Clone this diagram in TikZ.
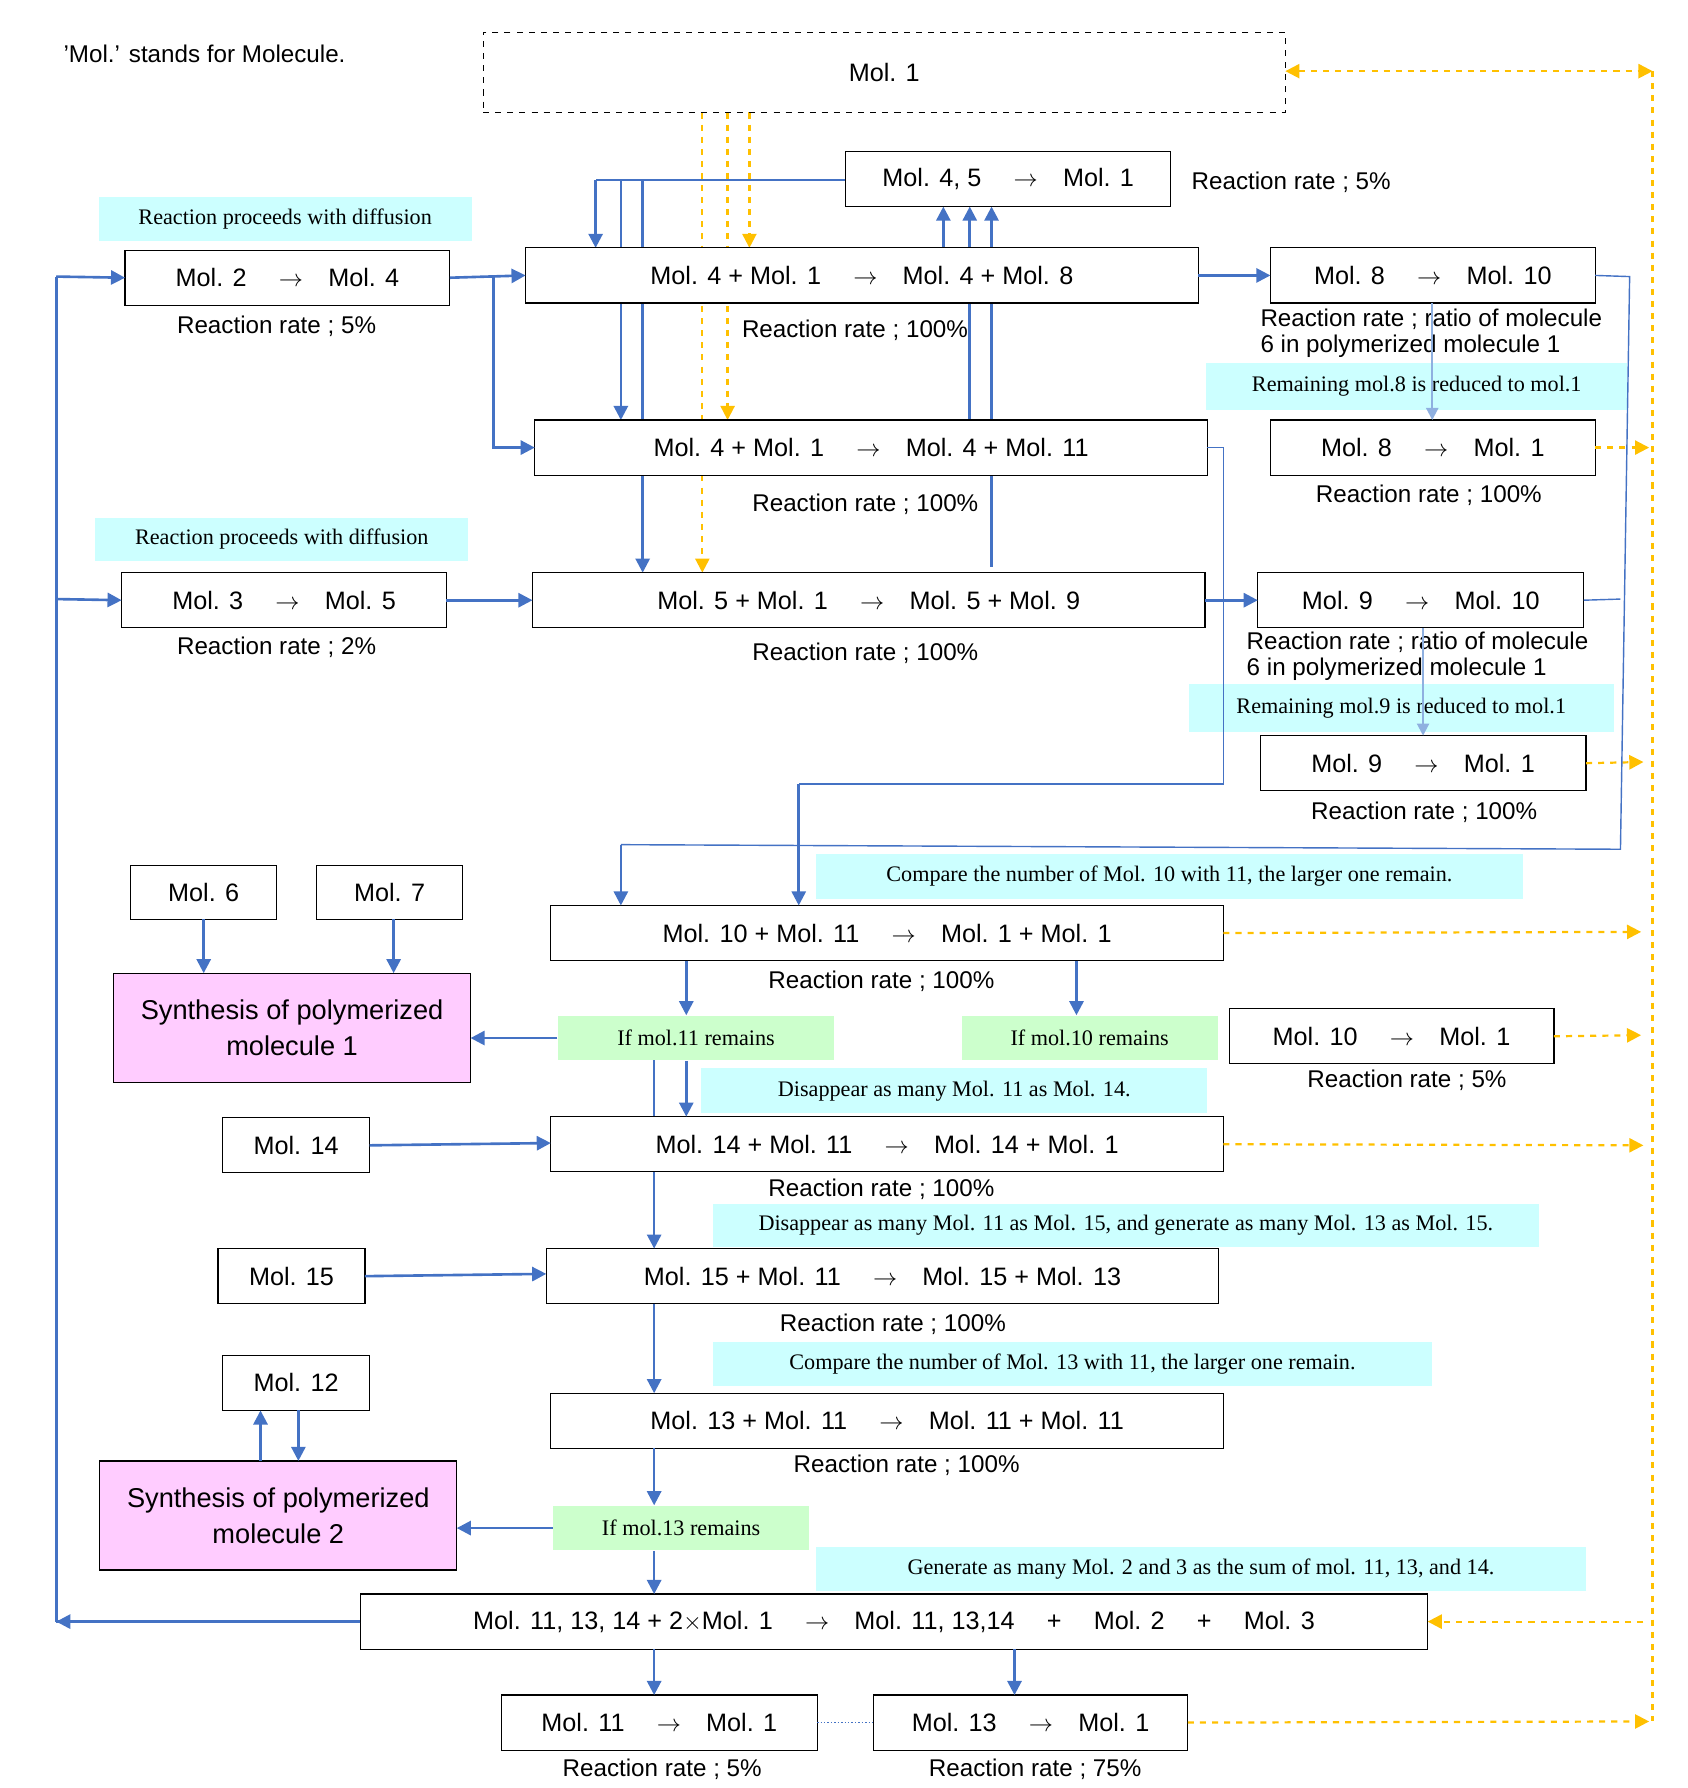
\documentclass[tikz,border=0pt]{standalone}
\usepackage{fontspec}
\setmainfont{Liberation Sans}
\newfontfamily\lserif{Liberation Serif}
\usetikzlibrary{arrows.meta}
\definecolor{bl}{HTML}{4472C4}
\definecolor{lb}{HTML}{8FB0E0}
\definecolor{og}{HTML}{FFC000}
\definecolor{cy}{HTML}{CCFFFF}
\definecolor{gr}{HTML}{CCFFCC}
\definecolor{pk}{HTML}{FFCCFF}
\newcommand\bx[7]{\pgfmathsetmacro\cx{(#2+#4)/2}\pgfmathsetmacro\cy{(#3+#5)/2}\pgfmathsetmacro\ww{(#4-#2)*0.02}\pgfmathsetmacro\hh{(#5-#3)*0.02}\node[#6,minimum width=\ww cm,minimum height=\hh cm] (#1) at (\cx,\cy) {#7};}
\newcommand\ar{$\rightarrow$}
\begin{document}
\begin{tikzpicture}[x=0.02cm,y=-0.02cm,
  box/.style={draw,fill=white,inner sep=0pt,outer sep=0pt,font=\fontsize{12.5}{15}\selectfont,line width=0.6pt},
  dbox/.style={box,dashed},
  pbox/.style={box,fill=pk,align=center,font=\fontsize{13.5}{18}\selectfont},
  cl/.style={fill=cy,inner sep=0pt,font=\lserif\fontsize{11}{12}\selectfont},
  gl/.style={fill=gr,inner sep=0pt,font=\lserif\fontsize{11}{12}\selectfont},
  tx/.style={inner sep=0pt,font=\fontsize{12}{13}\selectfont},
  ba/.style={draw=bl,line width=1.3pt,-{Triangle[length=7pt,width=7pt]}},
  bline/.style={draw=bl,line width=1.3pt},
  thin/.style={draw=bl,line width=0.7pt},
  oa/.style={draw=og,line width=1.1pt,dashed,-{Triangle[length=7pt,width=7pt]}},
  oline/.style={draw=og,line width=1.1pt,dashed}]
\useasboundingbox (0,0) rectangle (1470,1558);
% lines drawn behind boxes
\draw[bline] (737,157) -- (519,157);
\draw[ba] (519,157) -- (519,216);
\draw[ba] (541,157) -- (541,366);
\draw[ba] (560,157) -- (560,499);
\draw[ba] (822,216) -- (822,180);
\draw[ba] (845,366) -- (845,180);
\draw[ba] (864,494) -- (864,180);
\draw[bline] (570,924) -- (570,973);
\draw[oa] (612,98) -- (612,499);
\draw[oa] (634,98) -- (634,366);
\draw[oa] (653,98) -- (653,216);

\bx{M1}{421}{28}{1120}{98}{dbox}{Mol. 1}
\bx{M45}{737}{132}{1020}{180}{box}{Mol. 4, 5 \quad\ar\quad Mol. 1}
\bx{R1}{458}{216}{1044}{264}{box}{Mol. 4 + Mol. 1 \quad\ar\quad Mol. 4 + Mol. 8}
\bx{M24}{109}{218}{392}{266}{box}{Mol. 2 \quad\ar\quad Mol. 4}
\bx{M810}{1107}{216}{1390}{264}{box}{Mol. 8 \quad\ar\quad Mol. 10}
\bx{R2}{466}{366}{1052}{414}{box}{Mol. 4 + Mol. 1 \quad\ar\quad Mol. 4 + Mol. 11}
\bx{M81}{1107}{366}{1390}{414}{box}{Mol. 8 \quad\ar\quad Mol. 1}
\bx{M35}{106}{499}{389}{547}{box}{Mol. 3 \quad\ar\quad Mol. 5}
\bx{R3}{464}{499}{1050}{547}{box}{Mol. 5 + Mol. 1 \quad\ar\quad Mol. 5 + Mol. 9}
\bx{M910}{1096}{499}{1380}{547}{box}{Mol. 9 \quad\ar\quad Mol. 10}
\bx{M91}{1098}{641}{1382}{689}{box}{Mol. 9 \quad\ar\quad Mol. 1}
\bx{M6}{114}{754}{241}{801}{box}{Mol. 6}
\bx{M7}{276}{754}{403}{801}{box}{Mol. 7}
\bx{S1}{99}{848}{410}{943}{pbox}{Synthesis of polymerized\\molecule 1}
\bx{R4}{480}{789}{1066}{837}{box}{Mol. 10 + Mol. 11 \quad\ar\quad Mol. 1 + Mol. 1}
\bx{M101}{1071}{879}{1354}{927}{box}{Mol. 10 \quad\ar\quad Mol. 1}
\bx{M14}{194}{974}{322}{1022}{box}{Mol. 14}
\bx{R5}{480}{973}{1066}{1021}{box}{Mol. 14 + Mol. 11 \quad\ar\quad Mol. 14 + Mol. 1}
\bx{M15}{190}{1088}{318}{1136}{box}{Mol. 15}
\bx{R6}{476}{1088}{1062}{1136}{box}{Mol. 15 + Mol. 11 \quad\ar\quad Mol. 15 + Mol. 13}
\bx{M12}{194}{1181}{322}{1229}{box}{Mol. 12}
\bx{R7}{480}{1214}{1066}{1262}{box}{Mol. 13 + Mol. 11 \quad\ar\quad Mol. 11 + Mol. 11}
\bx{S2}{87}{1273}{398}{1368}{pbox}{Synthesis of polymerized\\molecule 2}
\bx{R8}{314}{1389}{1244}{1437}{box}{Mol. 11, 13, 14 + 2$\times$Mol. 1 \quad\ar\quad Mol. 11, 13,14 \quad + \quad Mol. 2 \quad + \quad Mol. 3}
\bx{M111}{437}{1477}{712}{1525}{box}{Mol. 11 \quad\ar\quad Mol. 1}
\bx{M131}{761}{1477}{1035}{1525}{box}{Mol. 13 \quad\ar\quad Mol. 1}

\bx{C1}{86}{172}{411}{210}{cl}{Reaction proceeds with diffusion}
\bx{C2}{83}{451}{408}{489}{cl}{Reaction proceeds with diffusion}
\bx{C3}{1051}{316}{1418}{357}{cl}{Remaining mol.8 is reduced to mol.1}
\bx{C4}{1036}{596}{1406}{638}{cl}{Remaining mol.9 is reduced to mol.1}
\bx{C5}{711}{744}{1327}{783}{cl}{Compare the number of Mol. 10 with 11, the larger one remain.}
\bx{C6}{611}{931}{1052}{970}{cl}{Disappear as many Mol. 11 as Mol. 14.}
\bx{C7}{621}{1049}{1341}{1087}{cl}{Disappear as many Mol. 11 as Mol. 15, and generate as many Mol. 13 as Mol. 15.}
\bx{C8}{621}{1169}{1248}{1208}{cl}{Compare the number of Mol. 13 with 11, the larger one remain.}
\bx{C9}{711}{1348}{1382}{1386}{cl}{Generate as many Mol. 2 and 3 as the sum of mol. 11, 13, and 14.}
\bx{G1}{486}{885}{727}{924}{gl}{If mol.11 remains}
\bx{G2}{838}{885}{1061}{924}{gl}{If mol.10 remains}
\bx{G3}{482}{1312}{705}{1351}{gl}{If mol.13 remains}

\node[tx,anchor=west] (t0) at (55,47) {'Mol.' stands for Molecule.};
\node[tx,anchor=west] (t1) at (1038,159) {Reaction rate ; 5\%};
\node[tx] (t2) at (241,284) {Reaction rate ; 5\%};
\node[tx] (t3) at (745,288) {Reaction rate ; 100\%};
\node[tx,anchor=north west,align=left,font=\fontsize{12}{13}\selectfont] (t4) at (1098,269) {Reaction rate ; ratio of molecule\\6 in polymerized molecule 1};
\node[tx] (t5) at (754,439) {Reaction rate ; 100\%};
\node[tx] (t6) at (1245,432) {Reaction rate ; 100\%};
\node[tx] (t7) at (241,564) {Reaction rate ; 2\%};
\node[tx] (t8) at (754,569) {Reaction rate ; 100\%};
\node[tx,anchor=north west,align=left,font=\fontsize{12}{13}\selectfont] (t9) at (1086,550) {Reaction rate ; ratio of molecule\\6 in polymerized molecule 1};
\node[tx] (t10) at (1241,708) {Reaction rate ; 100\%};
\node[tx] (t11) at (768,855) {Reaction rate ; 100\%};
\node[tx] (t12) at (1226,941) {Reaction rate ; 5\%};
\node[tx] (t13) at (768,1036) {Reaction rate ; 100\%};
\node[tx] (t14) at (778,1154) {Reaction rate ; 100\%};
\node[tx] (t15) at (790,1277) {Reaction rate ; 100\%};
\node[tx] (t16) at (577,1542) {Reaction rate ; 5\%};
\node[tx] (t17) at (902,1542) {Reaction rate ; 75\%};

% orange
\draw[oline] (1440,62) -- (1440,1500);
\draw[oa,{Triangle[length=7pt,width=7pt]}-{Triangle[length=7pt,width=7pt]}] (M1.east |- 0,62) -- (1440,62);
\draw[oa] (M81.east) -- (1437,390);
\draw[oa] (M91.east) -- (1432,664);
\draw[oa] (R4.east) -- (1430,812);
\draw[oa] (M101.east) -- (1430,902);
\draw[oa] (R5.east) -- (1432,998);
\draw[oa] (1432,1413) -- (R8.east);
\draw[oa] (M131.east) -- (1437,1500);

% blue
\draw[ba] (M24.east) -- (R1.west);
\draw[ba] (430,241) -- (430,390) -- (R2.west);
\draw[bline] (R8.west) -- (49,1413);
\draw[ba] (60,1413) -- (49,1413);
\draw[bline] (49,1413) -- (49,241);
\draw[ba] (49,241) -- (M24.west);
\draw[ba] (49,522) -- (M35.west);
\draw[ba] (M35.east) -- (R3.west);
\draw[ba] (R1.east) -- (M810.west);
\draw[ba] (R3.east) -- (M910.west);
\draw[thin] (M810.east) -- (1420,241) -- (1412,740) -- (541,736);
\draw[ba] (541,736) -- (541,0 |- R4.north);
\draw[thin] (M910.east) -- (1412,522);
\draw[thin] (R2.east) -- (1066,390) -- (1066,683) -- (696,683);
\draw[ba] (696,683) -- (696,0 |- R4.north);
\draw[draw=lb,line width=1pt,-{Triangle[length=6pt,width=6pt]}] (M810.south -| 1248,0) -- (1248,0 |- M81.north);
\draw[draw=lb,line width=1pt,-{Triangle[length=6pt,width=6pt]}] (M910.south -| 1240,0) -- (1240,0 |- M91.north);
\draw[ba] (M6.south) -- (M6.south |- S1.north);
\draw[ba] (M7.south -| 343,0) -- (343,0 |- S1.north);
\draw[ba] (R4.south -| 598,0) -- (598,0 |- G1.north);
\draw[ba] (R4.south -| 938,0) -- (938,0 |- G2.north);
\draw[ba] (G1.west) -- (S1.east |- G1.west);
\draw[ba] (G1.south -| 598,0) -- (598,0 |- R5.north);
\draw[ba] (R5.south -| 570,0) -- (570,0 |- R6.north);
\draw[ba] (R6.south -| 570,0) -- (570,0 |- R7.north);
\draw[ba] (R7.south -| 570,0) -- (570,0 |- G3.north);
\draw[ba] (G3.south -| 570,0) -- (570,0 |- R8.north);
\draw[ba] (G3.west) -- (S2.east |- G3.west);
\draw[ba] (M14.east) -- (R5.west |- 0,996);
\draw[ba] (M15.east) -- (R6.west |- 0,1110);
\draw[ba] (S2.north -| 227,0) -- (227,0 |- M12.south);
\draw[ba] (M12.south -| 260,0) -- (260,0 |- S2.north);
\draw[ba] (R8.south -| 570,0) -- (570,0 |- M111.north);
\draw[ba] (R8.south -| 884,0) -- (884,0 |- M131.north);
\draw[thin,densely dotted] (M111.east) -- (M131.west);
\end{tikzpicture}
\end{document}
